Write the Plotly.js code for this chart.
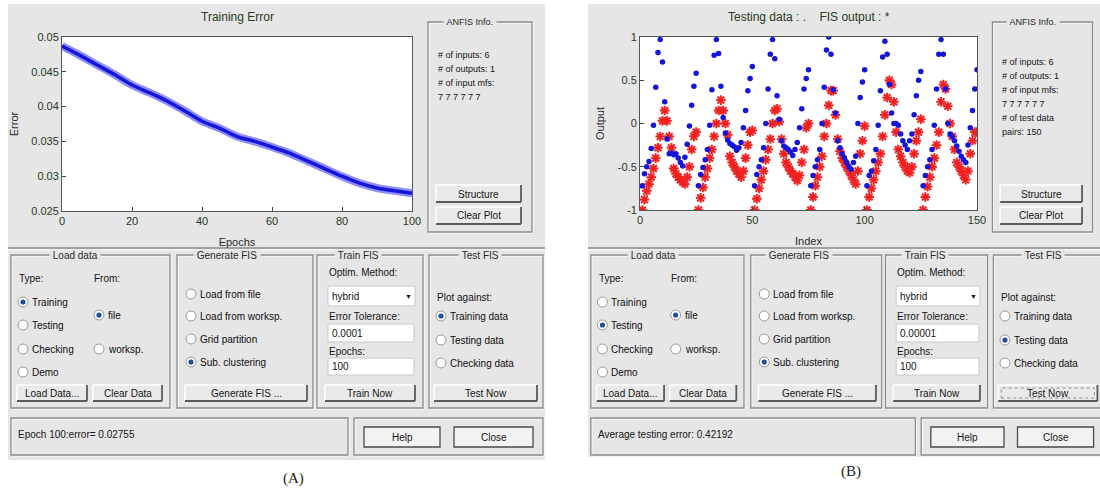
<!DOCTYPE html>
<html><head><meta charset="utf-8">
<script src="https://cdn.plot.ly/plotly-3.0.1.min.js"></script>
<style>html,body{margin:0;padding:0;background:#fff;overflow:hidden}#chart{width:1100px;height:492px}</style>
</head><body><div id="chart"></div>
<script>
// ---------- DATA ----------
const epochs = [0,5,10,15,20,25,30,35,40,45,50,55,60,65,70,75,80,85,90,95,100];
const trainingError = [0.0487,0.0474,0.0460,0.0446,0.0431,0.0420,0.0408,0.0394,0.0379,0.0369,0.0357,0.0350,0.0342,0.0333,0.0322,0.0311,0.0300,0.0290,0.0283,0.0279,0.02755];
const errorTicks = [0.025,0.03,0.035,0.04,0.045,0.05];
const errorTickText = ["0.025","0.03","0.035","0.04","0.045","0.05"];
const epochTicks = [0,20,40,60,80,100];

const testingData = [
 -0.72,-0.58,-0.50,-0.44,-0.29,-0.02,0.42,0.82,0.97,0.71,0.25,-0.18,-0.35,-0.34,-0.36,-0.35,-0.40,-0.45,-0.49,-0.39,-0.24,-0.03,0.21,0.43,0.58,
 -0.72,-0.59,-0.51,-0.42,-0.30,-0.02,0.39,0.79,0.97,0.81,0.43,0.07,-0.11,-0.19,-0.23,-0.25,-0.27,-0.31,-0.28,-0.22,-0.05,0.15,0.38,0.52,0.66,
 -0.72,-0.59,-0.50,-0.42,-0.28,0.00,0.40,0.80,0.97,0.75,0.32,0.05,-0.20,-0.26,-0.28,-0.30,-0.33,-0.37,-0.30,-0.22,-0.05,0.17,0.40,0.52,0.62,
 -0.72,-0.60,-0.50,-0.42,-0.30,0.00,0.42,0.85,1.00,0.80,0.39,0.12,-0.20,-0.28,-0.35,-0.40,-0.45,-0.50,-0.53,-0.45,-0.38,0.00,0.30,0.48,0.62,
 -0.72,-0.60,-0.55,-0.43,-0.30,-0.02,0.38,0.77,0.95,0.80,0.45,0.12,0.00,0.00,-0.02,-0.12,-0.20,-0.25,-0.30,-0.20,-0.12,0.10,0.32,0.50,0.60,
 -0.72,-0.60,-0.50,-0.42,-0.30,-0.02,0.40,0.80,0.97,0.80,0.40,0.00,-0.12,-0.15,-0.20,-0.26,-0.32,-0.38,-0.42,-0.45,-0.25,-0.05,0.15,0.40,0.62
];
const fisOutput = [
 -1.00,-0.88,-0.78,-0.70,-0.62,-0.52,-0.40,-0.28,-0.15,0.03,0.15,0.03,-0.15,-0.28,-0.52,-0.58,-0.62,-0.65,-0.68,-0.70,-0.62,-0.50,-0.30,-0.15,-0.10,
 -1.00,-0.86,-0.74,-0.62,-0.52,-0.40,-0.30,-0.15,0.00,0.15,0.27,0.15,0.00,-0.13,-0.38,-0.45,-0.50,-0.55,-0.58,-0.62,-0.55,-0.40,-0.25,-0.10,-0.08,
 -1.00,-0.87,-0.75,-0.65,-0.55,-0.42,-0.30,-0.18,0.00,0.15,0.17,0.02,-0.18,-0.35,-0.45,-0.50,-0.55,-0.58,-0.62,-0.66,-0.60,-0.45,-0.30,-0.05,0.00,
 -1.00,-0.85,-0.72,-0.62,-0.50,-0.38,-0.15,0.00,0.21,0.38,0.38,0.10,-0.18,-0.32,-0.40,-0.45,-0.50,-0.55,-0.60,-0.65,-0.70,-0.55,-0.35,-0.20,-0.03,
 -1.00,-0.85,-0.75,-0.65,-0.55,-0.45,-0.35,-0.15,0.10,0.30,0.50,0.45,0.25,-0.10,-0.30,-0.38,-0.45,-0.50,-0.55,-0.57,-0.50,-0.35,-0.20,-0.10,0.05,
 -1.00,-0.85,-0.73,-0.62,-0.50,-0.40,-0.25,-0.10,0.25,0.45,0.40,0.20,0.00,-0.15,-0.30,-0.45,-0.50,-0.55,-0.60,-0.65,-0.55,-0.35,-0.20,-0.10,-0.10
];
const testIndex = testingData.map((v,i)=>i+1);
const outputTicks = [-1,-0.5,0,0.5,1];
const outputTickText = ["-1","-0.5","0","0.5","1"];
const indexTicks = [0,50,100,150];

const infoA = ["# of inputs: 6","# of outputs: 1","# of input mfs:","7 7 7 7 7 7"];
const infoB = ["# of inputs: 6","# of outputs: 1","# of input mfs:","7 7 7 7 7 7","# of test data","pairs: 150"];

// ---------- DRAWING HELPERS ----------
const W=1100,H=492;
const FONT='"Liberation Sans Narrow","Arial Narrow","Liberation Sans",Arial,sans-serif';
const BG='#e6e6e6';
const shapes=[],ann=[];
const px=x=>x/W, py=y=>1-y/H;
function rect(x0,y0,x1,y1,fill,lc,lw){shapes.push({type:'rect',xref:'paper',yref:'paper',x0:px(x0),x1:px(x1),y0:py(y1),y1:py(y0),fillcolor:fill||'rgba(0,0,0,0)',line:{color:lc||'rgba(0,0,0,0)',width:lc?(lw||1):0},layer:'below'});}
function line(x0,y0,x1,y1,c,w){shapes.push({type:'line',xref:'paper',yref:'paper',x0:px(x0),x1:px(x1),y0:py(y0),y1:py(y1),line:{color:c,width:w||1},layer:'below'});}
function circ(cx,cy,r,fill,lc,lw){shapes.push({type:'circle',xref:'paper',yref:'paper',x0:px(cx-r),x1:px(cx+r),y0:py(cy+r),y1:py(cy-r),fillcolor:fill,line:{color:lc||'rgba(0,0,0,0)',width:lc?(lw||1):0},layer:'above'});}
function text(x,y,s,o){o=o||{};ann.push({xref:'paper',yref:'paper',x:px(x),y:py(y),text:s,showarrow:false,xanchor:o.anchor||'left',yanchor:'middle',borderpad:0,font:{family:o.family||FONT,size:o.size||10,color:o.color||'#151515'},bgcolor:o.bg||'rgba(0,0,0,0)'});}

function panel(P){
  const X=x=>P.ox+(x-62)*P.s;
  rect(X(8),4,Math.min(X(545),1100),P.bgBottom,BG);
  text(X(237),17,P.title,{anchor:'center',size:12,color:'#263a1c'});
  function group(x0,y0,x1,y1,label,lx,sz){
    rect(X(x0)+1,y0+1,X(x1)+1,y1+1,null,'#ffffff',1);
    rect(X(x0),y0,X(x1),y1,null,'#8c8c8c',1.3);
    if(label) text(X(lx),y0,'&nbsp;'+label+'&nbsp;',{anchor:'center',size:sz||10,bg:BG,color:'#2a2a2a'});
  }
  function button(x0,y0,x1,y1,label,focus){
    const a=X(x0),b=X(x1);
    rect(a,y0,b,y1,'#e9e9e9');
    line(a,y0,b,y0,'#ffffff',1.5);line(a,y0,a,y1,'#ffffff',1.5);
    line(a,y1,b,y1,'#5a5a5a',1.8);line(b,y0,b,y1,'#5a5a5a',1.8);
    if(focus){rect(a+3,y0+3,b-3,y1-3,null,'#777',0.8);shapes[shapes.length-1].line.dash='dot';}
    text((a+b)/2,(y0+y1)/2+0.5,label,{anchor:'center',size:10});
  }
  function radio(cx,cy,label,sel){
    circ(X(cx),cy,5,'#ffffff','#9a9a9a',1);
    if(sel) circ(X(cx),cy,2.6,'#1c4f9c');
    text(X(cx)+8,cy,label,{size:10,color:'#0e0e0e'});
  }
  function edit(x0,y0,x1,y1,val){
    rect(X(x0),y0,X(x1),y1,'#ffffff','#c8c8c8',1);
    text(X(x0)+3,(y0+y1)/2,val,{size:10});
  }
  group(428,22,532,232,'ANFIS Info.',470,9);
  P.info.forEach((s,i)=>text(X(437),P.infoY+i*14,s,{size:9}));
  button(436,185,521,202,'Structure');
  button(436,207,521,224,'Clear Plot');
  line(X(8),248,Math.min(X(545),1100),248,'#8a8a8a',1.5);
  line(X(8),249.8,Math.min(X(545),1100),249.8,'#ffffff',1);
  group(11,255,170,408,'Load data',75);
  text(X(18),278,'Type:');text(X(93),278,'From:');
  radio(23,302,'Training',P.type===0);
  radio(23,325,'Testing',P.type===1);
  radio(23,349,'Checking',false);
  radio(23,372,'Demo',false);
  radio(99,315,'file',true);
  radio(99,349,'worksp.',false);
  button(17,385,87,401,'Load Data...');
  button(93,385,162,401,'Clear Data');
  group(177,255,313,408,'Generate FIS',227);
  radio(191,294,'Load from file',false);
  radio(191,316,'Load from worksp.',false);
  radio(191,339,'Grid partition',false);
  radio(191,362,'Sub. clustering',true);
  button(185,385,307,401,'Generate FIS ...');
  group(317,255,423,408,'Train FIS',358);
  text(X(328),272,'Optim. Method:');
  edit(328,286,415,306,'hybrid');
  text(X(408),296,'▼',{anchor:'center',size:7,color:'#111'});
  text(X(328),316,'Error Tolerance:');
  edit(328,324,414,342,P.tol);
  text(X(328),351,'Epochs:');
  edit(328,358,414,375,'100');
  button(325,385,415,401,'Train Now');
  group(429,255,543,408,'Test FIS',480);
  text(X(436),297,'Plot against:');
  radio(441,316,'Training data',P.plot===0);
  radio(441,340,'Testing data',P.plot===1);
  radio(441,363,'Checking data',false);
  button(434,385,537,401,'Test Now',P.plot===1);
  rect(X(11)+1,419,X(348)+1,456,null,'#ffffff',1);
  rect(X(11),418,X(348),455,null,'#8c8c8c',1.3);
  text(X(17),434,P.status,{size:10});
  rect(X(354)+1,419,X(543)+1,456,null,'#ffffff',1);
  rect(X(354),418,X(543),455,null,'#8c8c8c',1.3);
  [[364,440,'Help'],[454,533,'Close']].forEach(b=>{
    rect(X(b[0]),427,X(b[1]),447,'#f2f2f2','#4a4a4a',1.3);
    text((X(b[0])+X(b[1]))/2,437,b[2],{anchor:'center',size:10});
  });
  text(P.labelX,P.labelY,P.label,{anchor:'center',size:15,family:'"Liberation Serif","DejaVu Serif",serif',color:'#222'});
}

panel({ox:62,s:1,bgBottom:460,title:'Training Error',info:infoA,infoY:55,type:0,tol:'0.0001',plot:0,status:'Epoch 100:error= 0.02755',label:'(A)',labelX:293,labelY:478});
panel({ox:640,s:0.963,bgBottom:457,title:'Testing data : .&nbsp;&nbsp;&nbsp;&nbsp;FIS output : *',info:infoB,infoY:62,type:1,tol:'0.00001',plot:1,status:'Average testing error: 0.42192',label:'(B)',labelX:851,labelY:471});

rect(62,37,412,211,'#ffffff');
rect(640,37,977,210,'#ffffff');

// ---------- TRACES ----------
const traces=[
 {x:epochs,y:trainingError,xaxis:'x',yaxis:'y',mode:'lines',line:{color:'rgba(50,50,240,0.55)',width:8,shape:'spline',smoothing:0.6},hoverinfo:'skip'},
 {x:epochs,y:trainingError,xaxis:'x',yaxis:'y',mode:'lines',line:{color:'#1616d8',width:3.5,shape:'spline',smoothing:0.6}},
 {x:testIndex,y:fisOutput,xaxis:'x2',yaxis:'y2',mode:'markers',marker:{symbol:'circle',size:9,color:'rgba(255,90,90,0.35)'},hoverinfo:'skip'},
 {x:testIndex,y:fisOutput,xaxis:'x2',yaxis:'y2',mode:'markers',marker:{symbol:'asterisk-open',size:8,color:'#ee2020',line:{color:'#ee2020',width:1.8}}},
 {x:testIndex,y:testingData,xaxis:'x2',yaxis:'y2',mode:'markers',marker:{symbol:'circle',size:5.5,color:'#1515d8'}}
];

const tickFont={family:FONT,size:11,color:'#253a1c'};
const titleFont={family:FONT,size:11,color:'#2a2a2a'};
const axBase={ticks:'inside',ticklen:4,tickcolor:'#444',showline:true,mirror:true,linecolor:'#555',linewidth:1,showgrid:false,zeroline:false,tickfont:tickFont,fixedrange:true,automargin:false};
const layout={
 width:W,height:H,margin:{l:0,r:0,t:0,b:0},paper_bgcolor:'#ffffff',plot_bgcolor:'rgba(0,0,0,0)',showlegend:false,
 title:{text:''},
 xaxis:Object.assign({},axBase,{domain:[62/W,412/W],range:[0,100],tickvals:epochTicks,anchor:'y',title:{text:'Epochs',font:titleFont,standoff:12}}),
 yaxis:Object.assign({},axBase,{domain:[1-211/H,1-37/H],range:[0.025,0.05],tickvals:errorTicks,ticktext:errorTickText,anchor:'x',title:{text:'Error',font:titleFont,standoff:10}}),
 xaxis2:Object.assign({},axBase,{domain:[640/W,977/W],range:[0,150],tickvals:indexTicks,anchor:'y2',title:{text:'Index',font:titleFont,standoff:12}}),
 yaxis2:Object.assign({},axBase,{domain:[1-210/H,1-37/H],range:[-1,1],tickvals:outputTicks,ticktext:outputTickText,anchor:'x2',title:{text:'Output',font:titleFont,standoff:10}}),
 shapes:shapes,annotations:ann
};
Plotly.newPlot('chart',traces,layout,{staticPlot:true,displayModeBar:false});
</script></body></html>
